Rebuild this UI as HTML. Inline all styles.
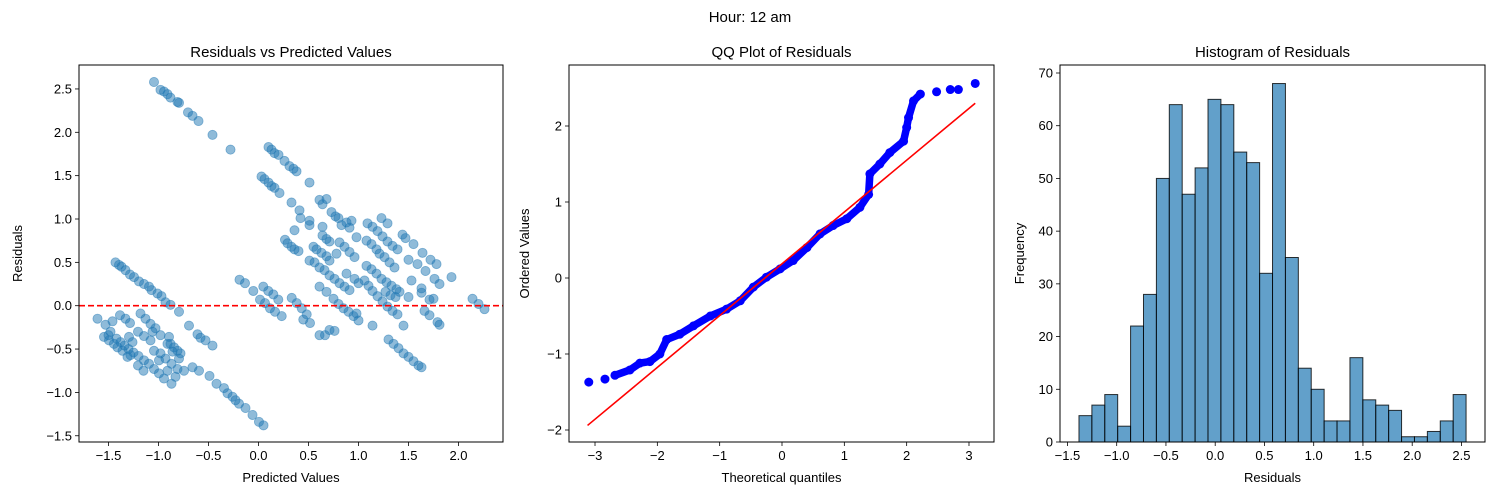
<!DOCTYPE html>
<html><head><meta charset="utf-8"><style>
html,body{margin:0;padding:0;background:#fff;}
svg{display:block;font-family:"Liberation Sans","DejaVu Sans",sans-serif;}
</style></head><body>
<svg id="fig" width="1500" height="500" viewBox="0 0 1500 500" xmlns="http://www.w3.org/2000/svg">
<text x="750" y="22" text-anchor="middle" font-size="15">Hour: 12 am</text>
</svg>
<script>
// ---- Scatter data: predicted vs residuals ----
const predicted = [
-1.045,-0.98,-0.945,-0.91,-0.88,-0.81,-0.795,-0.705,-0.66,-0.60,-0.46,-0.28,
-1.43,-1.395,-1.37,-1.33,-1.285,-1.245,-1.195,-1.145,-1.095,-1.07,-1.01,-0.97,-0.93,-0.88,-0.795,
-1.61,-1.53,-1.46,-1.385,-1.33,-1.285,-1.545,-1.495,-1.445,-1.41,-1.36,-1.48,-1.295,-1.26,-1.31,-1.28,-1.205,-1.205,-1.145,-1.08,-1.15,-1.145,-1.095,-1.045,-0.995,-0.945,-0.87,-0.83,-0.91,-0.995,-1.045,-0.98,-0.93,-0.87,-0.81,-0.745,-1.18,-1.13,-1.08,-1.03,-0.98,-1.06,-0.895,-0.88,-0.845,-0.81,-0.78,-0.795,-0.91,-0.86,
-1.5,-1.42,-1.38,-1.34,-1.30,-1.25,-1.2,
-0.695,-0.61,-0.58,-0.53,-0.46,-0.66,-0.595,
-0.49,-0.42,-0.345,-0.31,-0.26,-0.23,-0.195,-0.13,-0.06,0.005,0.05,
0.10,0.13,0.16,0.20,0.26,0.31,0.35,0.38,0.51,
0.03,0.06,0.10,0.13,0.16,0.21,
0.33,0.41,0.42,0.51,0.51,0.61,0.64,0.68,0.73,0.77,0.80,0.83,0.93,0.88,0.91,0.98,1.23,1.29,1.09,1.14,1.19,1.24,1.29,1.34,1.39,1.44,1.47,1.55,1.64,1.72,1.78,1.93,1.50,1.59,1.67,1.76,1.81,1.53,1.63,1.63,1.71,1.75,1.66,1.71,1.79,1.81,2.14,2.20,2.26,
0.265,0.29,0.33,0.36,0.40,0.36,
0.55,0.58,0.63,0.68,0.71,0.64,0.64,0.68,0.71,0.51,0.56,0.61,0.66,0.71,0.76,0.81,0.86,0.91,0.78,0.81,0.86,0.91,0.96,0.88,0.96,1.00,0.61,0.68,0.75,0.80,0.85,0.90,0.95,1.00,0.98,
1.08,1.13,1.18,1.21,1.26,1.31,1.36,1.08,1.13,1.18,1.23,1.28,1.33,1.38,1.41,1.06,1.10,1.14,1.19,1.24,1.29,1.34,1.39,1.27,1.32,1.37,1.50,1.45,1.14,0.61,0.665,0.71,0.76,
-0.19,-0.135,-0.052,0.015,0.065,0.115,0.165,0.232,0.048,0.098,0.148,0.198,0.332,0.382,0.432,0.482,0.515,0.448,
1.30,1.35,1.40,1.45,1.50,1.55,1.60,1.63
];
const residuals = [
2.58,2.49,2.47,2.44,2.40,2.35,2.34,2.23,2.19,2.13,1.97,1.80,
0.50,0.47,0.45,0.41,0.36,0.33,0.28,0.25,0.22,0.18,0.14,0.11,0.04,0.01,-0.07,
-0.15,-0.22,-0.18,-0.11,-0.15,-0.20,-0.36,-0.40,-0.44,-0.48,-0.52,-0.30,-0.36,-0.42,-0.59,-0.57,-0.69,-0.30,-0.35,-0.40,-0.75,-0.63,-0.67,-0.73,-0.78,-0.84,-0.90,-0.82,-0.75,-0.63,-0.52,-0.55,-0.61,-0.67,-0.73,-0.75,-0.09,-0.15,-0.21,-0.26,-0.34,-0.30,-0.36,-0.44,-0.48,-0.52,-0.55,-0.61,-0.44,-0.53,
-0.34,-0.38,-0.42,-0.46,-0.50,-0.54,-0.58,
-0.23,-0.33,-0.37,-0.40,-0.46,-0.71,-0.75,
-0.81,-0.90,-0.95,-1.01,-1.05,-1.09,-1.13,-1.18,-1.26,-1.34,-1.38,
1.83,1.80,1.76,1.74,1.67,1.61,1.58,1.55,1.42,
1.49,1.46,1.42,1.38,1.36,1.30,
1.19,1.10,1.01,0.98,0.93,1.22,1.17,1.23,1.08,1.03,1.01,0.93,0.98,0.96,0.90,0.79,1.01,0.95,0.95,0.91,0.86,0.80,0.74,0.69,0.65,0.82,0.78,0.71,0.61,0.53,0.48,0.33,0.53,0.48,0.40,0.31,0.25,0.29,0.20,0.15,0.07,0.08,-0.06,-0.11,-0.19,-0.22,0.08,0.02,-0.04,
0.76,0.72,0.68,0.65,0.63,0.87,
0.68,0.65,0.61,0.57,0.52,0.91,0.81,0.77,0.74,0.52,0.50,0.44,0.41,0.35,0.31,0.26,0.22,0.18,0.60,0.73,0.68,0.62,0.56,0.37,0.31,0.26,0.22,0.16,0.08,0.02,-0.03,-0.07,-0.12,-0.17,-0.09,
0.75,0.71,0.65,0.60,0.56,0.50,0.44,0.46,0.42,0.37,0.31,0.27,0.23,0.19,0.16,0.29,0.23,0.17,0.11,0.05,-0.01,-0.06,-0.10,0.16,0.12,0.10,0.10,-0.23,-0.23,-0.34,-0.34,-0.28,-0.29,
0.30,0.26,0.17,0.07,0.03,-0.03,-0.07,-0.12,0.22,0.17,0.13,0.07,0.09,0.03,-0.03,-0.10,-0.20,-0.16,
-0.39,-0.44,-0.49,-0.55,-0.59,-0.64,-0.69,-0.71
];
const scatterXTicks = [-1.5,-1.0,-0.5,0.0,0.5,1.0,1.5,2.0];
const scatterYTicks = [-1.5,-1.0,-0.5,0.0,0.5,1.0,1.5,2.0,2.5];

// ---- QQ data ----
const qqTheoretical = [-3.10,-2.84,-2.68,-2.44,-2.28,-2.12,-1.96,-1.85,-1.64,-1.42,-1.15,-0.89,-0.67,-0.46,-0.25,-0.03,0.18,0.40,0.61,0.82,1.04,1.25,1.39,1.41,1.57,1.73,1.95,2.00,2.03,2.11,2.22,2.48,2.70,2.83,3.10];
const qqOrdered = [-1.37,-1.33,-1.28,-1.21,-1.12,-1.10,-1.00,-0.81,-0.74,-0.63,-0.50,-0.41,-0.30,-0.12,0.01,0.12,0.23,0.40,0.58,0.69,0.78,0.93,1.10,1.37,1.50,1.65,1.80,1.98,2.11,2.33,2.42,2.45,2.48,2.48,2.56];
const qqLineX = [-3.12,3.10];
const qqLineY = [-1.94,2.30];
const qqXTicks = [-3,-2,-1,0,1,2,3];
const qqYTicks = [-2,-1,0,1,2];

// ---- Histogram data ----
const histStart = -1.383;
const histBinWidth = 0.1310;
const histCounts = [5,7,9,3,22,28,50,64,47,52,65,64,55,53,32,68,35,14,10,4,4,16,8,7,6,1,1,2,4,9];
const histXTicks = [-1.5,-1.0,-0.5,0.0,0.5,1.0,1.5,2.0,2.5];
const histYTicks = [0,10,20,30,40,50,60,70];

const NS="http://www.w3.org/2000/svg";
const svg=document.getElementById('fig');
function mk(tag,attrs,parent){const e=document.createElementNS(NS,tag);for(const k in attrs)e.setAttribute(k,attrs[k]);(parent||svg).appendChild(e);return e;}
function lin(d0,d1,p0,p1){return v=>p0+(v-d0)*(p1-p0)/(d1-d0);}
function fmt(v,dec){return (v<0?'\u2212':'')+Math.abs(v).toFixed(dec);}

function axes(name,L,T,R,B,sx,sy,xt,yt,xdec,ydec,title,xl,yl,ylx){
  const g=mk('g',{});
  
  
  xt.forEach(v=>{const x=sx(v);
    mk('line',{x1:x,x2:x,y1:B,y2:B+4,stroke:'#000','stroke-width':0.8},g);
    const tx=mk('text',{x:x,y:B+18,'text-anchor':'middle','font-size':13},g);tx.textContent=fmt(v,xdec);
    
    });
  yt.forEach(v=>{const y=sy(v);
    mk('line',{x1:L-4,x2:L,y1:y,y2:y,stroke:'#000','stroke-width':0.8},g);
    const tx=mk('text',{x:L-7,y:y+4.5,'text-anchor':'end','font-size':13},g);tx.textContent=fmt(v,ydec);
    
    });
  const tt=mk('text',{x:(L+R)/2,y:T-8,'text-anchor':'middle','font-size':15},g);tt.textContent=title;
  
  
  const xlb=mk('text',{x:(L+R)/2,y:B+40,'text-anchor':'middle','font-size':13},g);xlb.textContent=xl;
  
  
  const ylb=mk('text',{x:0,y:0,'text-anchor':'middle','font-size':13,transform:`translate(${ylx},${(T+B)/2}) rotate(-90)`},g);ylb.textContent=yl;
  
  
  return g;
}
function frame(L,T,R,B){const r=mk('rect',{x:L,y:T,width:R-L,height:B-T,fill:'none',stroke:'#000','stroke-width':1});
  
  }

// Panel 1
(function(){
  const L=79,T=65,R=503,B=442;
  const sx=lin(0,1,258.5,358.5), sy=lin(0,1,305.7,219);
  axes('residuals-vs-predicted',L,T,R,B,sx,sy,scatterXTicks,scatterYTicks,1,1,'Residuals vs Predicted Values','Predicted Values','Residuals',22);
  const g=mk('g',{});
  
  
  for(let i=0;i<predicted.length;i++){
    const c=mk('circle',{cx:sx(predicted[i]),cy:sy(residuals[i]),r:4.6,fill:'#1f77b4','fill-opacity':0.5,stroke:'#1f77b4','stroke-opacity':0.5,'stroke-width':0.8},g);
    
    
  }
  const z=mk('line',{x1:L,x2:R,y1:sy(0),y2:sy(0),stroke:'#ff0000','stroke-width':1.6,'stroke-dasharray':'6,3'});
  
  
  frame(L,T,R,B);
})();

// Panel 2
(function(){
  const L=569,T=65,R=994,B=442;
  const sx=lin(0,1,782,844.33), sy=lin(0,1,278,202);
  axes('qq-plot',L,T,R,B,sx,sy,qqXTicks,qqYTicks,0,0,'QQ Plot of Residuals','Theoretical quantiles','Ordered Values',529);
  // dense band: continuous between the sparse tails (first 2 and last 4 points drawn as lone dots)
  const bandFirst=2, bandLast=qqTheoretical.length-5;
  const pts=[];
  for(let i=bandFirst;i<=bandLast;i++) pts.push(sx(qqTheoretical[i])+','+sy(qqOrdered[i]));
  const pl=mk('polyline',{points:pts.join(' '),fill:'none',stroke:'#0000ff','stroke-width':7.5,'stroke-linejoin':'round','stroke-linecap':'round'});
  
  
  qqTheoretical.forEach((q,i)=>{
    const c=mk('circle',{cx:sx(q),cy:sy(qqOrdered[i]),r:4.5,fill:'#0000ff'});
    
    
  });
  const ln=mk('line',{x1:sx(qqLineX[0]),y1:sy(qqLineY[0]),x2:sx(qqLineX[1]),y2:sy(qqLineY[1]),stroke:'#ff0000','stroke-width':1.6});
  
  
  frame(L,T,R,B);
})();

// Panel 3
(function(){
  const L=1060,T=65,R=1485,B=442;
  const sx=lin(0,1,1215.2,1313.7), sy=lin(0,70,442,73);
  axes('histogram',L,T,R,B,sx,sy,histXTicks,histYTicks,1,0,'Histogram of Residuals','Residuals','Frequency',1024);
  const g=mk('g',{});
  
  
  histCounts.forEach((c,i)=>{
    const x0=sx(histStart+i*histBinWidth), x1=sx(histStart+(i+1)*histBinWidth);
    const r=mk('rect',{x:x0,y:sy(c),width:x1-x0,height:sy(0)-sy(c),fill:'#1f77b4','fill-opacity':0.7,stroke:'#000','stroke-opacity':0.8,'stroke-width':1},g);
    
    
  });
  frame(L,T,R,B);
})();
</script>
</body></html>
